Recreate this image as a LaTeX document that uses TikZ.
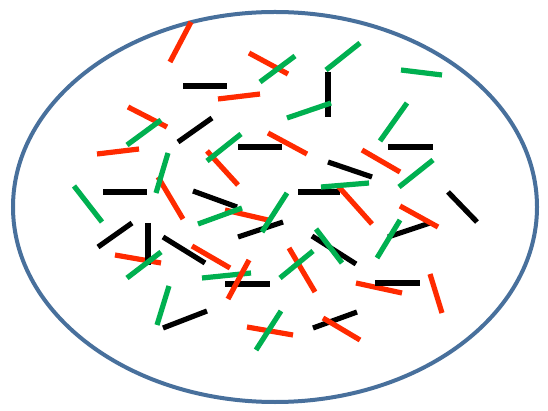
\documentclass[tikz,border=0pt]{standalone}
\begin{document}
\begin{tikzpicture}[x=1pt,y=-1pt,
  redbar/.style={draw=barred,line width=5.2pt},
  greenbar/.style={draw=bargreen,line width=5.2pt},
  blackbar/.style={draw=black,line width=5.2pt},
  rim/.style={draw=rimblue,line width=4pt}]
\definecolor{barred}{HTML}{FF2A00}
\definecolor{bargreen}{HTML}{00B050}
\definecolor{rimblue}{HTML}{48709C}
\useasboundingbox (0,0) rectangle (548,411);
\fill[white] (0,0) rectangle (548,411);
% outer boundary
\draw[rim] (275,207) ellipse [x radius=262, y radius=195];
% black segments
\foreach \a/\b/\c/\d in {183/86/227/86, 328/72/328/117, 212/118/178/142,
  103/192/147/192, 238/147/282/147, 388/147/433/147, 328/162/372/177,
  298/192/340/192, 448/192/477/222, 193/191/237/207, 238/237/283/222,
  388/237/430/223, 132/223/98/247, 163/237/205/263,
  225/284/270/284, 312/236/356/264, 375/283/420/283, 163/328/207/311,
  313/328/357/312}
  \draw[blackbar] (\a,\b) -- (\c,\d);
% red segments
\foreach \a/\b/\c/\d in {191/22/170/62, 249/53/288/74, 218/99/260/94,
  128/107/167/127, 97/154/139/149, 158/177/183/219, 207/151/238/185,
  268/133/307/154, 362/150/400/172, 338/186/372/224, 225/210/268/220,
  400/206/438/227, 115/255/161/263, 192/246/230/268,
  289/248/315/292, 430/274/442/313, 247/327/293/335,
  323/318/360/340}
  \draw[redbar] (\a,\b) -- (\c,\d);
% these two lie under the black bar they cross
\draw[redbar] (356,283) -- (402,293);
\draw[blackbar] (375,283) -- (420,283);
% vertical black bar over the red one it crosses
\draw[blackbar] (148,223) -- (148,265);
% green segments
\foreach \a/\b/\c/\d in {295/56/260/82, 360/43/326/70, 401/70/442/75,
  161/120/127/145, 287/118/331/103, 407/103/380/141, 168/153/156/193,
  74/186/102/222, 241/134/207/161, 321/187/369/183, 433/160/399/187,
  198/224/242/208, 287/193/262/232, 400/220/377/258, 161/252/127/278,
  202/278/251/273, 313/251/280/278, 316/229/342/263, 169/286/157/325,
  281/311/256/350}
  \draw[greenbar] (\a,\b) -- (\c,\d);
% red bar lying over the green one
\draw[redbar] (249,260) -- (228,299);
\end{tikzpicture}
\end{document}
